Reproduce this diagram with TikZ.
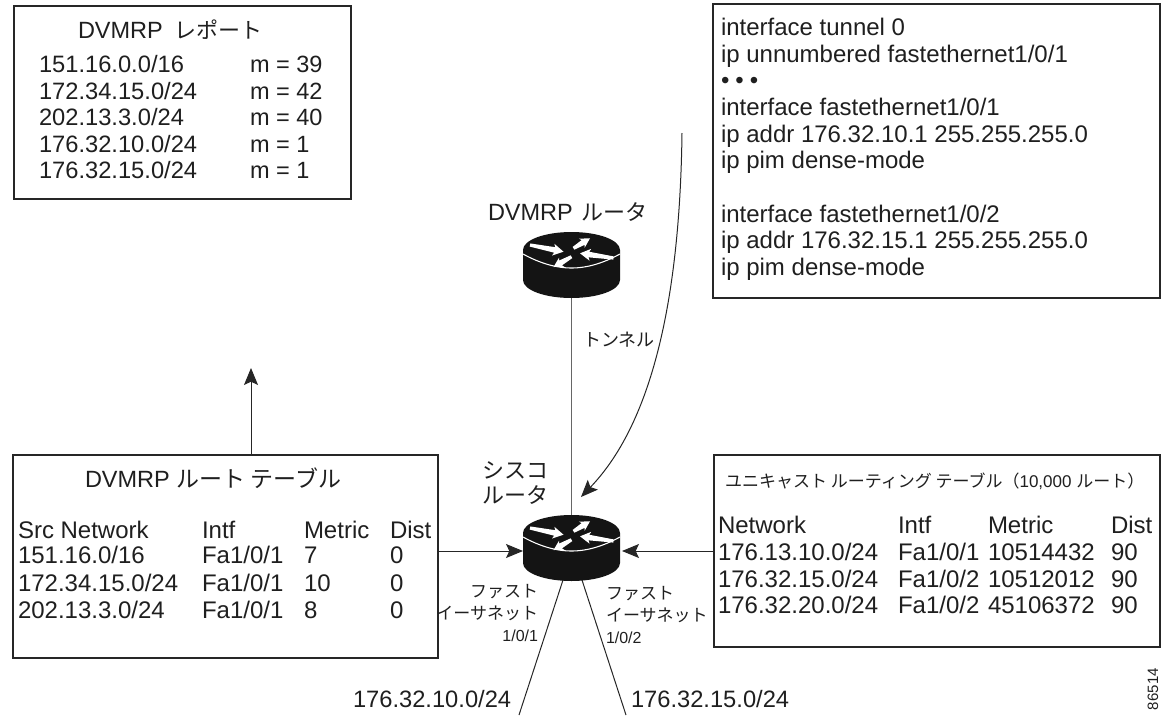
\documentclass[tikz,border=0pt]{standalone}
\usepackage{fontspec}
\setmainfont{Liberation Sans}
\newfontfamily\cjk{Noto Sans CJK JP}
\usetikzlibrary{arrows.meta}
\newcommand{\fs}[1]{\fontsize{\dimexpr #1pt*3/4\relax}{\dimexpr #1pt*9/10\relax}\selectfont}
\tikzset{
  x=0.75pt,y=-0.75pt,
  boxed/.style={draw=black!85,line width=1.2pt,fill=white},
  wire/.style={draw=black!85,line width=0.75pt},
  tunnelwire/.style={draw=black!60,line width=0.9pt},
  txt/.style={anchor=base west,inner sep=0,outer sep=0,text=black!88},
  arrowed/.style={wire,-{Stealth[length=12.75pt,width=10.5pt,inset=2.5pt]}},
  routerspot/.style={inner sep=0,outer sep=0,minimum width=72.75pt,minimum height=48pt},
}
% white tapered arrow: tail (x,y), vector (dx,dy), scale of the head
\newcommand{\whitearrow}[5]{%
  \pgfmathsetmacro{\vL}{veclen(#3,#4)}%
  \pgfmathsetmacro{\vx}{#3/\vL}%
  \pgfmathsetmacro{\vy}{#4/\vL}%
  \pgfmathsetmacro{\hL}{\vL-9*#5}%
  \fill[white]
    ({#1-1.6*\vy},{#2+1.6*\vx})
    -- ({#1+\hL*\vx-2.8*\vy},{#2+\hL*\vy+2.8*\vx})
    -- ({#1+(\hL-1.5)*\vx-6*#5*\vy},{#2+(\hL-1.5)*\vy+6*#5*\vx})
    -- ({#1+\vL*\vx},{#2+\vL*\vy})
    -- ({#1+(\hL-1.5)*\vx+6*#5*\vy},{#2+(\hL-1.5)*\vy-6*#5*\vx})
    -- ({#1+\hL*\vx+2.8*\vy},{#2+\hL*\vy-2.8*\vx})
    -- ({#1+1.6*\vy},{#2-1.6*\vx}) -- cycle;}
\newcommand{\routerbody}[1]{%
  \begin{scope}[shift={(#1)}]
    \fill[black!92] (-48.5,0) .. controls (-48.5,-10) and (-26.8,-18) .. (0,-18)
      .. controls (26.8,-18) and (48.5,-10) .. (48.5,0) -- (48.5,30)
      .. controls (48.5,40) and (26.8,48) .. (0,48)
      .. controls (-26.8,48) and (-48.5,40) .. (-48.5,30) -- cycle;
    \draw[white,line width=0.8pt] (-48.5,4) .. controls (-32,13) and (-16,18) .. (0,18)
      .. controls (16,18) and (32,13) .. (48.5,4);
    \whitearrow{-41.5}{-5}{33.5}{6.7}{1}
    \whitearrow{2}{-1.7}{16.5}{-10}{0.9}
    \whitearrow{42}{8}{-33.5}{-4.7}{1}
    \whitearrow{0}{6.7}{-18}{10.3}{0.9}
  \end{scope}}
\begin{document}
\begin{tikzpicture}
\useasboundingbox (0,0) rectangle (1165,715);
% boxes
\node[boxed,anchor=north west,minimum width=252.75pt,minimum height=144.75pt,inner sep=0] (report) at (13,5) {};
\node[boxed,anchor=north west,minimum width=335.25pt,minimum height=220.5pt,inner sep=0] (config) at (712,3) {};
\node[boxed,anchor=north west,minimum width=318.75pt,minimum height=152.25pt,inner sep=0] (route) at (12,454) {};
\node[boxed,anchor=north west,minimum width=334.5pt,minimum height=144pt,inner sep=0] (ucast) at (713,454) {};
% routers
\node[routerspot] (r1) at (571.5,265.5) {};
\node[routerspot] (r2) at (571.5,548) {};
\coordinate (up) at (251,368);
\coordinate (lan1) at (519,715);
\coordinate (lan2) at (626,715);
\coordinate (cs) at (682,133);
\coordinate (ce) at (581,497);
\coordinate (a1) at (563,580);
\coordinate (a2) at (582,580);
\draw[tunnelwire] (r1.south) -- (r2.north);
\draw[wire] (a1) -- (lan1);
\draw[wire] (a2) -- (lan2);
\draw[arrowed] (route.north -| up) -- (up);
\draw[arrowed] (route.east |- r2.west) ++(0,3) -- ([yshift=-2.25pt]r2.west);
\draw[arrowed] (ucast.west |- r2.east) ++(0,3) -- ([xshift=1.5pt,yshift=-2.25pt]r2.east);
\draw[arrowed] (cs) .. controls (680,290) and (655,420) .. (ce);
\routerbody{571.5,250}
\routerbody{571.5,533}
% report
\node[txt] (t1) at (78,38) {\fs{23.5}DVMRP {\cjk\fs{22}\ レポート}};
\foreach \n/\a/\b/\yy in {ra/151.16.0.0\slash 16/m = 39/72,rb/172.34.15.0\slash 24/m = 42/99,rc/202.13.3.0\slash 24/m = 40/125,rd/176.32.10.0\slash 24/m = 1/152,re/176.32.15.0\slash 24/m = 1/178}{
  \node[txt] (\n1) at (39,\yy) {\fs{23.7}\a};
  \node[txt] (\n2) at (250,\yy) {\fs{23.5}\b};
}
% config
\foreach \n/\s/\yy in {ca/interface tunnel 0/35,cb/ip unnumbered fastethernet1\slash 0\slash 1/62,cd/interface fastethernet1\slash 0\slash 1/115,ce/ip addr 176.32.10.1 255.255.255.0/142,cf/ip pim dense-mode/168,cg/interface fastethernet1\slash 0\slash 2/222,ch/ip addr 176.32.15.1 255.255.255.0/248,ci/ip pim dense-mode/275}{
  \node[txt] (\n) at (721,\yy) {\fs{24}\s};
}
\node[txt] (cdots) at (721,88) {\fs{24}\textbullet\hspace{4.5pt}\textbullet\hspace{4.5pt}\textbullet};
% labels
\node[txt] (l1) at (488,220) {\fs{23.5}DVMRP\hspace{1.5pt} {\cjk\fs{22}ルータ}};
\node[txt] (l2) at (583,346) {\fs{18}\cjk トンネル};
\node[txt] (l3) at (482,478) {\fs{22}\cjk シスコ};
\node[txt] (l4) at (482,503) {\fs{22}\cjk ルータ};
\node[txt,anchor=base east] (l5) at (538,597) {\fs{17}\cjk ファスト};
\node[txt,anchor=base east] (l6) at (538,619) {\fs{17}\cjk イーサネット};
\node[txt,anchor=base east] (l7) at (538,641) {\fs{16}1/0/1};
\node[txt] (l8) at (606,599) {\fs{17}\cjk ファスト};
\node[txt] (l9) at (606,621) {\fs{17}\cjk イーサネット};
\node[txt] (l10) at (606,643) {\fs{16}1/0/2};
\node[txt] (l11) at (353,707) {\fs{23.7}176.32.10.0/24};
\node[txt] (l12) at (631,707) {\fs{23.7}176.32.15.0/24};
\node[txt,rotate=90,anchor=base west] (l13) at (1158,710) {\fs{15}86514};
% route table
\node[txt] (h0) at (85,487) {\fs{23.5}DVMRP {\cjk\fs{23}ルート テーブル}};
\foreach \n/\a/\b/\c/\d/\yy in {h/Src Network/Intf/Metric/Dist/538,i/151.16.0\slash 16/Fa1\slash 0\slash 1/7/0/563,j/172.34.15.0\slash 24/Fa1\slash 0\slash 1/10/0/591,k/202.13.3.0\slash 24/Fa1\slash 0\slash 1/8/0/618}{
  \node[txt] (\n1) at (18,\yy) {\fs{24}\a};
  \node[txt] (\n2) at (202,\yy) {\fs{24}\b};
  \node[txt] (\n3) at (304,\yy) {\fs{24}\c};
  \node[txt] (\n4) at (390,\yy) {\fs{24}\d};
}
% unicast
\node[txt] (u0) at (725,487) {\fs{17}{\cjk ユニキャスト ルーティング テーブル（}10,000 {\cjk ルート）}};
\foreach \n/\a/\b/\c/\d/\yy in {p/Network/Intf/Metric/Dist/533,q/176.13.10.0\slash 24/Fa1\slash 0\slash 1/10514432/90/560,s/176.32.15.0\slash 24/Fa1\slash 0\slash 2/10512012/90/587,u/176.32.20.0\slash 24/Fa1\slash 0\slash 2/45106372/90/613}{
  \node[txt] (\n1) at (718,\yy) {\fs{24}\a};
  \node[txt] (\n2) at (898,\yy) {\fs{24}\b};
  \node[txt] (\n3) at (988,\yy) {\fs{24}\c};
  \node[txt] (\n4) at (1111,\yy) {\fs{24}\d};
}
\end{tikzpicture}
\end{document}
